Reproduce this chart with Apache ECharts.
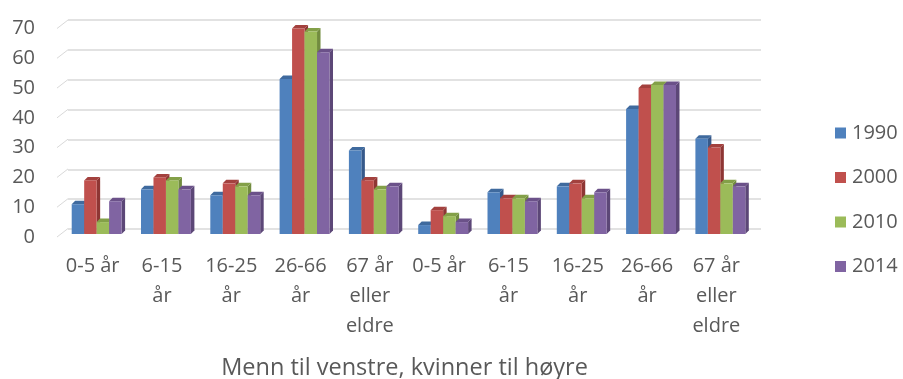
<!DOCTYPE html>
<html>
<head>
<meta charset="utf-8">
<script src="https://cdn.jsdelivr.net/npm/echarts@6/dist/echarts.min.js"></script>
<style>
  html, body { margin: 0; padding: 0; background: #fff; }
  #chart { width: 903px; height: 379px; }
</style>
</head>
<body>
<div id="chart"></div>
<script>
// Age groups: men on the left half, women on the right half
const categories = [
  '0-5 år', '6-15\når', '16-25\når', '26-66\når', '67 år\neller\neldre',
  '0-5 år', '6-15\når', '16-25\når', '26-66\når', '67 år\neller\neldre'
];
const years = ['1990', '2000', '2010', '2014'];
const values1990 = [10, 15, 13, 52, 28, 3, 14, 16, 42, 32];
const values2000 = [18, 19, 17, 69, 18, 8, 12, 17, 49, 29];
const values2010 = [4, 18, 16, 68, 15, 6, 12, 12, 50, 17];
const values2014 = [11, 15, 13, 61, 16, 4, 11, 14, 50, 16];
const yTicks = [0, 10, 20, 30, 40, 50, 60, 70];

const seriesValues = [values1990, values2000, values2010, values2014];
const colors = ['#4F81BD', '#C0504D', '#9BBB59', '#8064A2'];
const sideColors = ['#36598A', '#8E3634', '#728C3F', '#5C4777'];
const topColors = ['#3F6A9E', '#A3413E', '#83A048', '#6B5189'];

const FONT = '"Open Sans", sans-serif';
const TEXT = '#595959';

// Each bar is a front face plus a darker side and top face for a 3D look
function barRenderer(idx) {
  return function (params, api) {
    const cat = api.value(0);
    const val = api.value(1);
    const base = api.coord([cat, 0]);
    const top = api.coord([cat, val]);
    const band = api.size([1, 0])[0];
    const w = band * 0.18;
    const shiftX = 4, shiftY = -3;   // bars stand mid-depth on the floor
    const dX = 3.5, dY = 3.5;        // bar depth
    const x0 = base[0] - 2 * w + idx * w + shiftX;
    const yb = base[1] + shiftY;
    const yt = top[1] + shiftY;
    return {
      type: 'group',
      children: [
        {
          type: 'polygon',
          shape: { points: [[x0 + w, yt], [x0 + w + dX, yt - dY], [x0 + w + dX, yb - dY], [x0 + w, yb]] },
          style: { fill: sideColors[idx] }
        },
        {
          type: 'polygon',
          shape: { points: [[x0, yt], [x0 + dX, yt - dY], [x0 + w + dX, yt - dY], [x0 + w, yt]] },
          style: { fill: topColors[idx] }
        },
        {
          type: 'rect',
          shape: { x: x0, y: yt, width: w, height: yb - yt },
          style: { fill: colors[idx] }
        }
      ]
    };
  };
}

// Short slanted lines joining the front axis to the back-wall gridlines
function slantRenderer(params, api) {
  const p = api.coord([0, api.value(1)]);
  const x = params.coordSys.x;
  return {
    type: 'line',
    shape: { x1: x - 1, y1: p[1], x2: x + 10, y2: p[1] - 8.5 },
    style: { stroke: '#D9D9D9', lineWidth: 1 }
  };
}

const chart = echarts.init(document.getElementById('chart'), null, { renderer: 'canvas' });

const barSeries = years.map((name, i) => ({
  name: name,
  type: 'custom',
  xAxisIndex: 0,
  yAxisIndex: 0,
  renderItem: barRenderer(i),
  itemStyle: { color: colors[i] },
  encode: { x: 0, y: 1 },
  data: seriesValues[i].map((v, c) => [c, v]),
  z: 3
}));

chart.setOption({
  animation: false,
  backgroundColor: '#ffffff',
  textStyle: { fontFamily: FONT },
  grid: [
    // front plane: bars, axis labels
    { left: 58, right: 152, top: 28.5, bottom: 142, containLabel: false, outerBoundsMode: 'none' },
    // back wall: gridlines
    { left: 68, right: 142, top: 20, bottom: 150, containLabel: false, outerBoundsMode: 'none' }
  ],
  legend: {
    orient: 'vertical',
    left: 835,
    top: 123,
    padding: 0,
    itemWidth: 11,
    itemHeight: 11,
    itemGap: 24.5,
    icon: 'rect',
    data: years,
    textStyle: { color: TEXT, fontSize: 20, fontFamily: FONT, lineHeight: 20, padding: [0, 0, 0, 1] }
  },
  xAxis: [
    {
      type: 'category',
      gridIndex: 0,
      data: categories,
      axisLine: { show: false },
      axisTick: { show: false },
      axisLabel: {
        color: TEXT, fontSize: 20, fontFamily: FONT, lineHeight: 30,
        margin: 14, interval: 0
      },
      name: 'Menn til venstre, kvinner til høyre',
      nameLocation: 'middle',
      nameGap: 119,
      nameTextStyle: { color: TEXT, fontSize: 23.5, fontFamily: FONT }
    },
    {
      type: 'category',
      gridIndex: 1,
      data: categories,
      show: false
    }
  ],
  yAxis: [
    {
      type: 'value',
      gridIndex: 0,
      min: 0, max: 70, interval: 10,
      axisLine: { show: false },
      axisTick: { show: false },
      splitLine: { show: false },
      axisLabel: {
        color: TEXT, fontSize: 20, fontFamily: FONT, margin: 23,
        showMinLabel: true, showMaxLabel: true
      }
    },
    {
      type: 'value',
      gridIndex: 1,
      min: 0, max: 70, interval: 10,
      axisLine: { show: false },
      axisTick: { show: false },
      axisLabel: { show: false },
      splitLine: { show: true, lineStyle: { color: '#D9D9D9', width: 1.5 } }
    }
  ],
  series: [
    {
      name: 'gridSlant',
      type: 'custom',
      xAxisIndex: 0,
      yAxisIndex: 0,
      renderItem: slantRenderer,
      encode: { x: 0, y: 1 },
      data: yTicks.map(t => [0, t]),
      silent: true,
      z: 1
    }
  ].concat(barSeries)
});
</script>
</body>
</html>
